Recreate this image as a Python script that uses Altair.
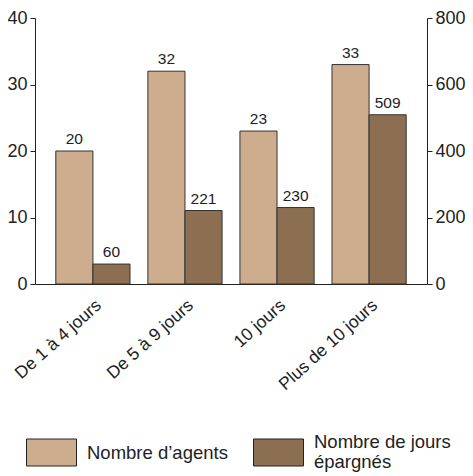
import altair as alt
import pandas as pd

categories = ["De 1 à 4 jours", "De 5 à 9 jours", "10 jours", "Plus de 10 jours"]
agents = [20, 32, 23, 33]
jours = [60, 221, 230, 509]
series = ["Nombre d’agents", "Nombre de jours épargnés"]
colors = ["#CDAD8E", "#8C6E50"]

df_a = pd.DataFrame({"cat": categories, "value": agents, "serie": series[0]})
df_j = pd.DataFrame({"cat": categories, "value": jours, "serie": series[1]})

FONT = "Liberation Sans"
TXT = "#222222"

x = alt.X("cat:N", sort=categories,
          scale=alt.Scale(paddingInner=0.194, paddingOuter=0.226),
          axis=alt.Axis(title=None, labelAngle=-42, ticks=False, labelFontSize=17.5,
                        labelPadding=12, domainColor=TXT, labelColor=TXT))
xo = alt.XOffset("serie:N", scale=alt.Scale(domain=series, paddingInner=0, paddingOuter=0))

legend_common = dict(title=None, orient="none", direction="horizontal", padding=0,
                     symbolType="M-1,-0.54H1V0.54H-1Z", symbolSize=2500,
                     symbolStrokeColor="#222", symbolStrokeWidth=1, symbolOpacity=1,
                     labelFontSize=18.5, labelColor=TXT, labelOffset=10, labelLimit=300)
colorA = alt.Color("serie:N", scale=alt.Scale(domain=[series[0]], range=[colors[0]]),
                   legend=alt.Legend(legendX=-9, legendY=409, labelBaseline="middle",
                                     **legend_common))
colorJ = alt.Color("serie:N", scale=alt.Scale(domain=[series[1]], range=[colors[1]]),
                   legend=alt.Legend(legendX=218, legendY=409, labelBaseline="line-bottom",
                                     labelExpr="['Nombre de jours', 'épargnés']",
                                     **legend_common))

axis_common = dict(title=None, grid=False, tickSize=5, labelPadding=3, labelFontSize=18,
                   domainColor=TXT, tickColor=TXT, labelColor=TXT)
yA = alt.Y("value:Q", scale=alt.Scale(domain=[0, 40]),
           axis=alt.Axis(orient="left", values=[0, 10, 20, 30, 40], **axis_common))
yJ = alt.Y("value:Q", scale=alt.Scale(domain=[0, 800]),
           axis=alt.Axis(orient="right", values=[0, 200, 400, 600, 800], **axis_common))

def layer(df, y, color):
    bars = alt.Chart(df).mark_bar(stroke="#333333", strokeWidth=1).encode(
        x=x, xOffset=xo, y=y, color=color)
    text = alt.Chart(df).mark_text(dy=-7, baseline="alphabetic", fontSize=15.5,
                                   color=TXT, font=FONT).encode(
        x=x, xOffset=xo, y=y, text="value:Q")
    return alt.layer(bars, text)

chart = alt.layer(layer(df_a, yA, colorA), layer(df_j, yJ, colorJ)).resolve_scale(
    y="independent", color="independent"
).properties(
    width=392, height=266,
    autosize=alt.AutoSizeParams(type="none"),
    padding={"left": 27, "top": 10, "right": 38, "bottom": 192},
).configure(font=FONT).configure_view(stroke=None)

chart.save("out.html", embed_options={"renderer": "svg", "actions": False})
